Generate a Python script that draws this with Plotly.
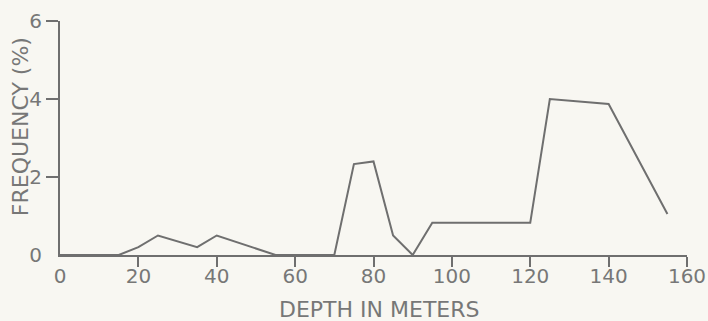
import plotly.graph_objects as go

# Frequency (%) of samples by depth (m)
depth_m = [0, 15, 20, 25, 35, 40, 55, 70, 75, 80, 85, 90, 95, 120, 125, 140, 155]
frequency_pct = [0, 0, 0.2, 0.5, 0.2, 0.5, 0, 0, 2.33, 2.4, 0.5, 0, 0.83, 0.83, 4.0, 3.87, 1.05]

x_ticks = [0, 20, 40, 60, 80, 100, 120, 140, 160]
y_ticks = [0, 2, 4, 6]

ink = "#6f6f6f"
label_ink = "#777777"
paper = "#f8f7f2"
font_family = "DejaVu Sans"

fig = go.Figure()
fig.add_trace(go.Scatter(
    x=depth_m, y=frequency_pct, mode="lines",
    line=dict(color=ink, width=2), hoverinfo="skip", showlegend=False,
))

fig.update_layout(
    width=708, height=321,
    margin=dict(l=60, r=21, t=21, b=66, autoexpand=False),
    paper_bgcolor=paper, plot_bgcolor=paper,
    font=dict(family=font_family, color=label_ink),
    showlegend=False,
    xaxis=dict(
        range=[0, 160], tickvals=x_ticks, ticktext=[str(v) for v in x_ticks],
        ticks="", showgrid=False, zeroline=False, automargin=False,
        showline=True, linecolor=ink, linewidth=2,
        tickfont=dict(size=20, color=label_ink), ticklabelstandoff=2,
        minor=dict(tickvals=x_ticks[1:], ticks="outside", ticklen=10,
                   tickwidth=2, tickcolor=ink, showgrid=False),
        fixedrange=True,
    ),
    yaxis=dict(
        range=[0, 6], tickvals=y_ticks, ticktext=[str(v) for v in y_ticks],
        ticks="", showgrid=False, zeroline=False, automargin=False,
        showline=True, linecolor=ink, linewidth=2,
        tickfont=dict(size=20, color=label_ink), ticklabelstandoff=12,
        minor=dict(tickvals=y_ticks[1:], ticks="outside", ticklen=12,
                   tickwidth=2, tickcolor=ink, showgrid=False),
        fixedrange=True,
    ),
    annotations=[
        dict(text="DEPTH IN METERS", xref="paper", yref="paper",
             x=0.51, y=-0.235, xanchor="center", yanchor="middle",
             showarrow=False, font=dict(size=22, color=label_ink, family=font_family)),
        dict(text="FREQUENCY (%)", xref="paper", yref="paper",
             x=-0.064, y=0.55, xanchor="center", yanchor="middle", textangle=-90,
             showarrow=False,
             font=dict(size=22, color=label_ink, family=font_family)),
    ],
)

fig.write_html("out.html")
